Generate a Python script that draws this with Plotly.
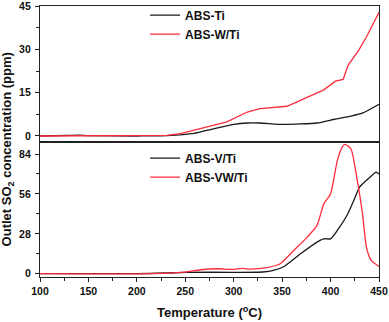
import plotly.graph_objects as go

# ---- data ----
t_ti = [100, 130, 140, 150, 200, 210, 231, 259, 279, 300, 314, 327, 352, 386, 404, 421, 434, 450]
abs_ti = [0, 0.2, 0.3, 0.1, 0, 0.05, 0.15, 0.9, 2.5, 4.0, 4.5, 4.5, 4.0, 4.5, 5.8, 6.9, 8.1, 11.0]

t_wti = [100, 200, 215, 231, 245, 266, 293, 314, 327, 355, 369, 393, 405, 413, 418, 429, 437, 450]
abs_wti = [0, 0, 0.05, 0.2, 0.8, 2.6, 4.9, 8.3, 9.5, 10.3, 12.4, 16.0, 19.0, 19.6, 24.5, 29.7, 34.3, 42.9]

t_vti = [100, 200, 230, 250, 300, 330, 341, 352, 369, 386, 393, 400, 407, 417, 424, 430, 441, 447, 450]
abs_vti = [0, 0, 0.5, 1.0, 1.0, 1.2, 2.3, 5.1, 14.0, 22.2, 24.5, 24.5, 30.4, 41.0, 51.4, 60.8, 67.8, 71.3, 70.0]

t_vwti = [100, 214, 248, 266, 283, 300, 309, 317, 334, 348, 362, 376, 386, 393, 400, 407, 412, 415,
          421, 427, 433, 437, 442, 450]
abs_vwti = [0, 0, 1.1, 2.8, 3.5, 3.0, 3.7, 3.2, 4.2, 7.0, 16.3, 25.7, 33.9, 49.0, 56.0, 79.5, 88.9, 90.7,
            87.7, 67.8, 42.0, 18.7, 9.3, 5.1]

x_ticks = [100, 150, 200, 250, 300, 350, 400, 450]
top_ticks = [0, 15, 30, 45]
bot_ticks = [0, 28, 56, 84]

BLACK = "#1a1a1a"
RED = "#ff2b3c"
FONT = "Liberation Sans, Arial, sans-serif"

fig = go.Figure()
fig.add_trace(go.Scatter(x=t_ti, y=abs_ti, mode="lines", name="ABS-Ti", line=dict(color=BLACK, width=1.3, shape="spline", smoothing=0.5),
                         xaxis="x2", yaxis="y2", legend="legend"))
fig.add_trace(go.Scatter(x=t_wti, y=abs_wti, mode="lines", name="ABS-W/Ti", line=dict(color=RED, width=1.3),
                         xaxis="x2", yaxis="y2", legend="legend"))
fig.add_trace(go.Scatter(x=t_vti, y=abs_vti, mode="lines", name="ABS-V/Ti", line=dict(color=BLACK, width=1.3, shape="spline", smoothing=0.6),
                         xaxis="x", yaxis="y", legend="legend2"))
fig.add_trace(go.Scatter(x=t_vwti, y=abs_vwti, mode="lines", name="ABS-VW/Ti", line=dict(color=RED, width=1.3, shape="spline", smoothing=0.6),
                         xaxis="x", yaxis="y", legend="legend2"))

tickfont = dict(family=FONT, size=10.5, color="#111", weight="bold")
common_axis = dict(showline=True, linecolor="#222", linewidth=1.2, mirror=True, showgrid=False, zeroline=False,
                   ticks="outside", ticklen=4, tickwidth=1, tickcolor="#222", tickfont=tickfont, automargin=False,
                   ticklabeloverflow="allow")

fig.update_layout(
    width=389, height=322, autosize=False,
    margin=dict(l=40, r=10, t=6, b=45, autoexpand=False),
    paper_bgcolor="white", plot_bgcolor="white",
    font=dict(family=FONT, color="#111"),
    xaxis=dict(domain=[0, 1], range=[100, 450], anchor="y", tickvals=x_ticks,
               minor=dict(ticks="outside", ticklen=2.5, dtick=25, tick0=100, tickcolor="#222"),
               title=dict(text="Temperature (<sup>o</sup>C)", font=dict(family=FONT, size=13, weight="bold"), standoff=12),
               **common_axis),
    xaxis2=dict(domain=[0, 1], range=[100, 450], anchor="y2", matches="x", showticklabels=False,
                showline=True, linecolor="#222", linewidth=1.2, mirror=True, showgrid=False, zeroline=False, ticks=""),
    yaxis=dict(domain=[0, 0.498], range=[-2.3, 92.4], anchor="x", tickvals=bot_ticks, ticklabelstandoff=2,
               minor=dict(ticks="outside", ticklen=2.5, dtick=14, tick0=0, tickcolor="#222"),
               **common_axis),
    yaxis2=dict(domain=[0.498, 1], range=[-2.1, 45.05], anchor="x2", tickvals=top_ticks, ticklabelstandoff=2,
                minor=dict(ticks="outside", ticklen=2.5, dtick=7.5, tick0=0, tickcolor="#222"),
                **common_axis),
    legend=dict(x=0.31, y=1.02, xanchor="left", yanchor="top", bgcolor="rgba(0,0,0,0)",
                font=dict(family=FONT, size=12, weight="bold", color="#111"), tracegroupgap=0),
    legend2=dict(x=0.31, y=0.492, xanchor="left", yanchor="top", bgcolor="rgba(0,0,0,0)",
                 font=dict(family=FONT, size=12, weight="bold", color="#111"), tracegroupgap=0),
    annotations=[dict(text="Outlet SO<sub>2</sub> concentration (ppm)", textangle=-90, xref="paper", yref="paper",
                      x=-0.095, y=0.47, xanchor="center", yanchor="middle", showarrow=False,
                      font=dict(family=FONT, size=13, weight="bold", color="#111"))],
)

fig.write_html("out.html", config={"displayModeBar": False},
               post_script="document.body.style.margin='0';document.body.style.padding='0';")
